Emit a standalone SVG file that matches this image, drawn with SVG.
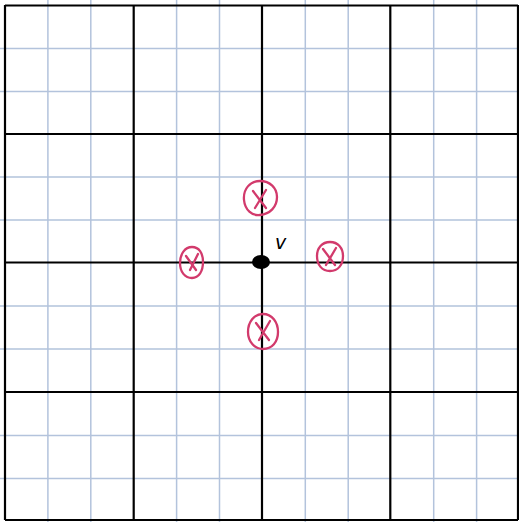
<svg xmlns="http://www.w3.org/2000/svg" width="519" height="522" viewBox="0 0 519 522">
<style>
.thin{stroke:#b3c3dc;stroke-width:1.5;fill:none}
.thick{stroke:#000;stroke-width:2.2;fill:none}
.mark{stroke:#d23a6c;stroke-width:2.3;fill:none;stroke-linecap:round}
.lbl{font-family:"DejaVu Sans",sans-serif;font-style:italic;font-size:19px;fill:#000}
</style>
<rect width="519" height="522" fill="#fff"/>
<g id="grid">
<path class="thin" d="M47.9 0V522M90.8 0V522M176.6 0V522M219.5 0V522M305.3 0V522M348.2 0V522M433.7 0V522M476.6 0V522M0 48.5H519M0 91.5H519M0 177H519M0 220H519M0 306H519M0 349H519M0 435.5H519M0 478.5H519"/>
<path class="thick" d="M5 5V520M133.7 5V520M262 5V520M390.3 5V520M518 5V520M5 5.5H518M5 134H518M5 262.5H518M5 392H518M5 520H518"/>
</g>
<g id="connectors"></g>
<g id="v">
<ellipse cx="261" cy="262" rx="9" ry="7" fill="#000"/>
<text class="lbl" x="275" y="249">v</text>
</g>
<g id="x-top">
<path class="mark" d="M260 181c-10 0-17 8-16 19c1 10 8 16 16 15c10-1 17-8 17-18c0-9-7-16-17-16z"/>
<path class="mark" d="M253 191l13 17M266 190l-11 18"/>
</g>
<g id="x-left">
<path class="mark" d="M192 247c-7 0-12 7-12 16c0 9 5 15 12 15c7 0 11-7 11-16c0-9-4-15-11-15z"/>
<path class="mark" d="M186 256l10 14M198 254l-8 16"/>
</g>
<g id="x-right">
<path class="mark" d="M330 242c-8 0-13 6-13 14c0 9 5 15 13 15c8 0 13-6 13-15c0-8-5-14-13-14z"/>
<path class="mark" d="M323 249l12 16M336 248l-10 17"/>
</g>
<g id="x-bottom">
<path class="mark" d="M263 314c-9 0-15 8-15 18c0 10 7 17 15 17c9 0 15-7 15-17c0-10-6-18-15-18z"/>
<path class="mark" d="M256 323l13 17M270 321l-11 19"/>
</g>
</svg>
